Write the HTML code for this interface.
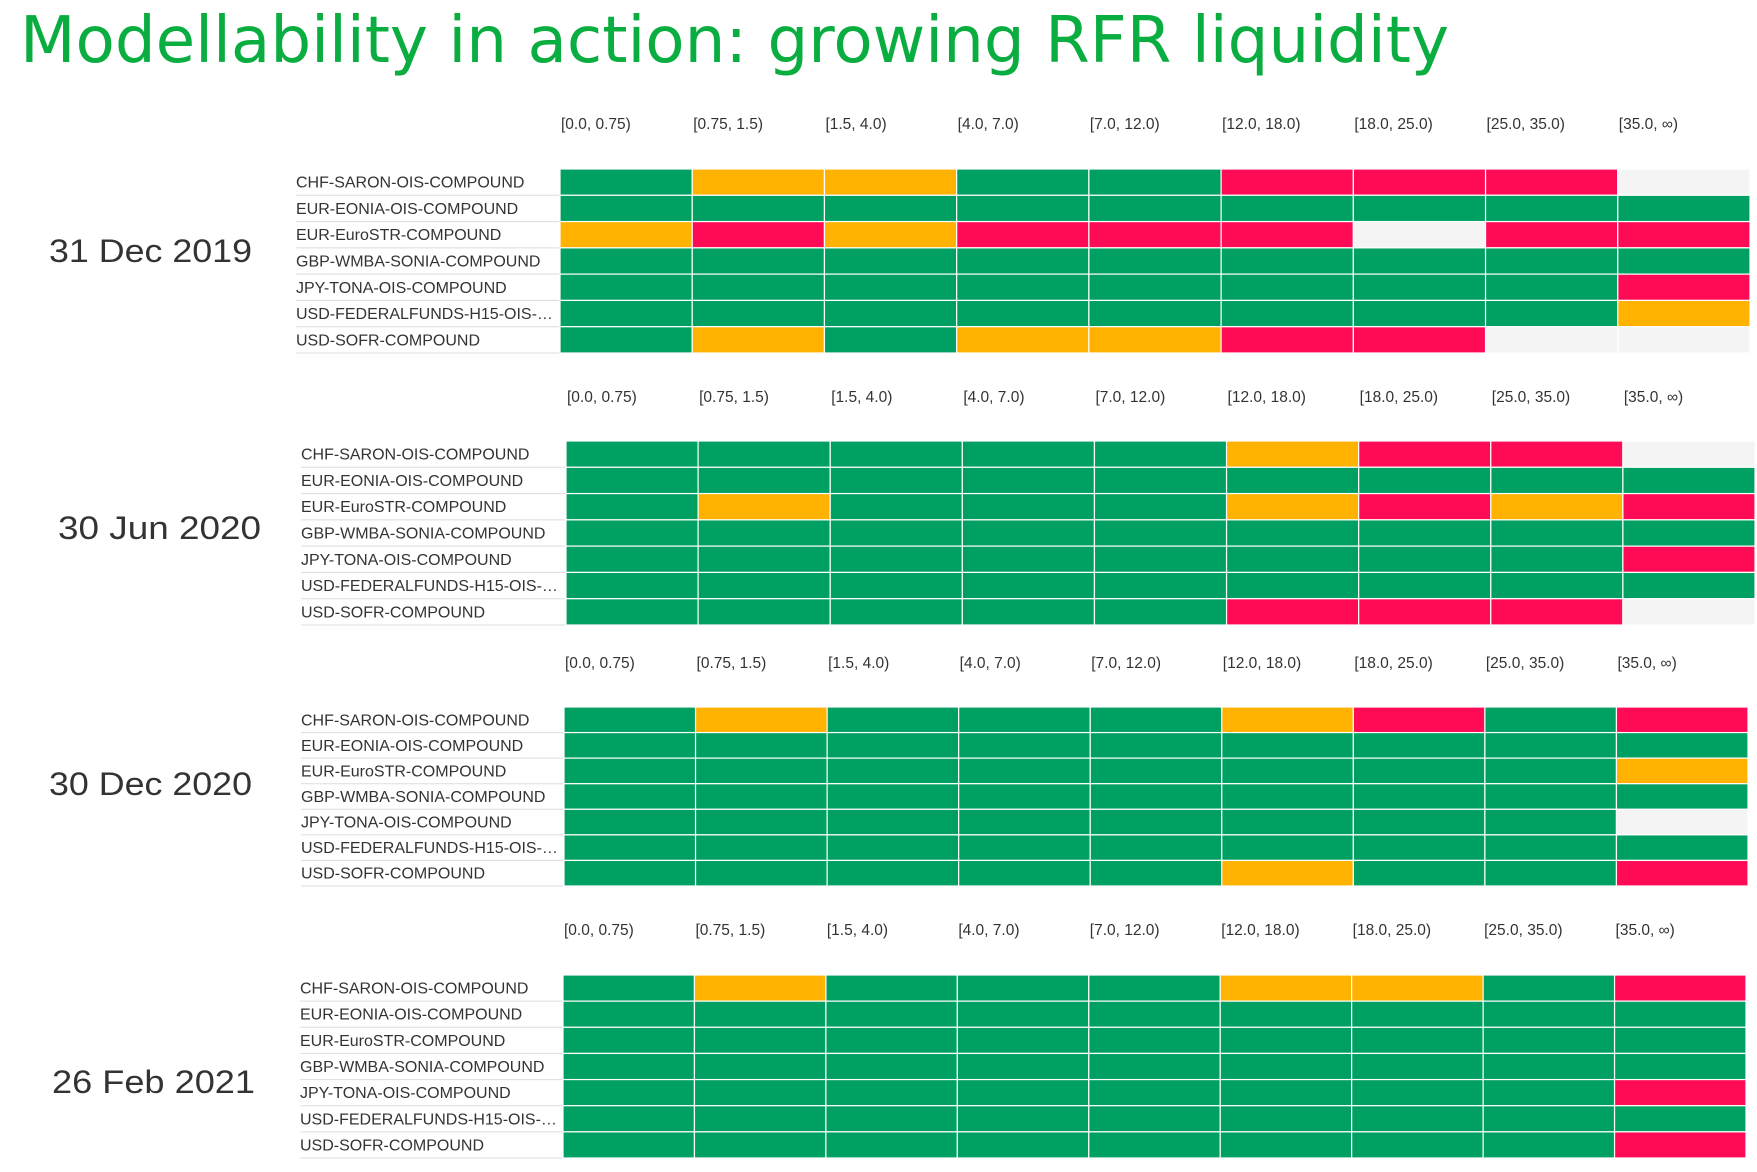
<!DOCTYPE html>
<html><head><meta charset="utf-8"><style>
html,body{margin:0;padding:0;background:#fff;}
svg{display:block;font-family:"Liberation Sans",sans-serif;}
</style></head><body>
<svg id="c" width="1757" height="1172" viewBox="0 0 1757 1172">
<text x="20" y="62" font-size="64" fill="#0aad3f" textLength="1429" lengthAdjust="spacingAndGlyphs" style="font-family:'DejaVu Sans',sans-serif">Modellability in action: growing RFR liquidity</text>
</svg>
<script>
const buckets = ["[0.0, 0.75)","[0.75, 1.5)","[1.5, 4.0)","[4.0, 7.0)","[7.0, 12.0)","[12.0, 18.0)","[18.0, 25.0)","[25.0, 35.0)","[35.0, ∞)"];
const curves = ["CHF-SARON-OIS-COMPOUND","EUR-EONIA-OIS-COMPOUND","EUR-EuroSTR-COMPOUND","GBP-WMBA-SONIA-COMPOUND","JPY-TONA-OIS-COMPOUND","USD-FEDERALFUNDS-H15-OIS-…","USD-SOFR-COMPOUND"];
const dates = ["31 Dec 2019","30 Jun 2020","30 Dec 2020","26 Feb 2021"];
const status2019 = ["GOOGGRRRE","GGGGGGGGG","ORORRRERR","GGGGGGGGG","GGGGGGGGR","GGGGGGGGO","GOGOORREE"];
const status2020a = ["GGGGGORRE","GGGGGGGGG","GOGGGOROR","GGGGGGGGG","GGGGGGGGR","GGGGGGGGG","GGGGGRRRE"];
const status2020b = ["GOGGGORGR","GGGGGGGGG","GGGGGGGGO","GGGGGGGGG","GGGGGGGGE","GGGGGGGGG","GGGGGOGGR"];
const status2021 = ["GOGGGOOGR","GGGGGGGGG","GGGGGGGGG","GGGGGGGGG","GGGGGGGGR","GGGGGGGGG","GGGGGGGGR"];
const allStatus = [status2019,status2020a,status2020b,status2021];
const colors = {G:"#009f62",O:"#ffb200",R:"#ff0a55",E:"#f4f4f4"};
const layout = [
 {x0:560,x1:1750,y0:169,y1:353,hy:129,lx:296,dx:49,dy:262},
 {x0:566,x1:1755,y0:441,y1:625,hy:402,lx:301,dx:58,dy:539},
 {x0:564,x1:1748,y0:707,y1:886,hy:668,lx:301,dx:49,dy:795},
 {x0:563,x1:1746,y0:975,y1:1158,hy:935,lx:300,dx:52,dy:1093}
];
const svg=document.getElementById('c');
const NS="http://www.w3.org/2000/svg";
function mk(t,a,txt){const e=document.createElementNS(NS,t);for(const k in a)e.setAttribute(k,a[k]);if(txt!==undefined)e.textContent=txt;svg.appendChild(e);return e;}
layout.forEach((L,p)=>{
  const cw=(L.x1-L.x0)/buckets.length, rh=(L.y1-L.y0)/curves.length;
  const xs=i=>L.x0+i*cw, ys=j=>L.y0+j*rh;
  const d=mk('text',{x:L.dx,y:L.dy,'font-size':32,fill:'#333',textLength:203,lengthAdjust:'spacingAndGlyphs'},dates[p]);
  
  
  buckets.forEach((b,i)=>{
    const t=mk('text',{x:xs(i)+1,y:L.hy,'font-size':15.5,fill:'#333'},b);
    
    
  });
  curves.forEach((c,j)=>{
    const t=mk('text',{x:L.lx,y:ys(j)+rh/2+5.5,'font-size':16,fill:'#333'},c);
    
    
    const ln=mk('line',{x1:L.lx,x2:L.x0,y1:ys(j+1),y2:ys(j+1),stroke:'#ddd','stroke-width':1});
    
    
    const row=allStatus[p][j];
    buckets.forEach((b,i)=>{
      const r=mk('rect',{x:xs(i),y:ys(j),width:cw,height:rh,fill:colors[row[i]],stroke:'#fff','stroke-width':1.2});
      
      
    });
  });
});
</script>
</body></html>
